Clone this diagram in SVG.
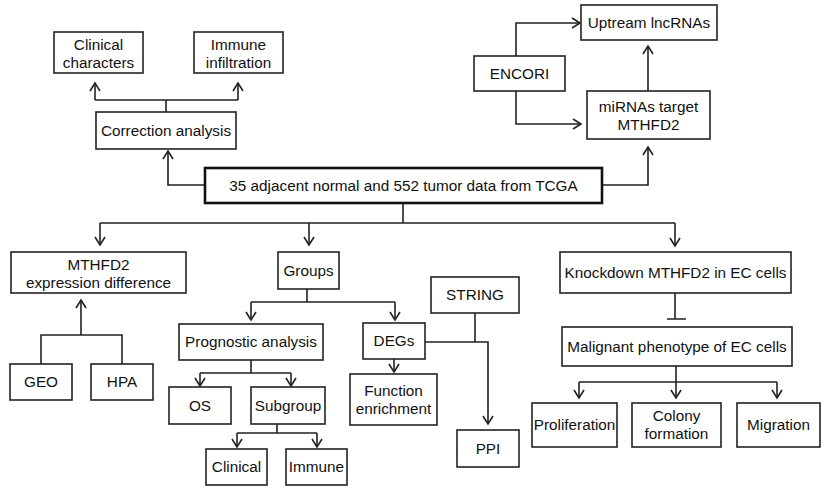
<svg xmlns="http://www.w3.org/2000/svg" width="825" height="493" viewBox="0 0 825 493">
<style>
.box{fill:#fff;stroke:#222;stroke-width:1.6}
.main{fill:#fff;stroke:#111;stroke-width:2.6}
text{font-family:"Liberation Sans",Arial,sans-serif;font-size:15.3px;fill:#111;text-anchor:middle}
.ln{fill:none;stroke:#222;stroke-width:1.6}
.ar{fill:none;stroke:#222;stroke-width:1.6;marker-end:url(#ah)}
</style>
<defs>
<marker id="ah" markerUnits="userSpaceOnUse" markerWidth="14" markerHeight="14" viewBox="-10 -7 12 14" refX="0" refY="0" orient="auto">
<path d="M-8,-5 L0,0 L-8,5" fill="none" stroke="#222" stroke-width="1.6"/>
</marker>
</defs>
<rect width="825" height="493" fill="#fff"/>
<g id="connectors">
<path class="ln" d="M166,112 V100 M95,100 H238"/>
<path class="ar" d="M95,100 V83"/>
<path class="ar" d="M238,100 V83"/>
<path class="ar" d="M205,185 H168 V151"/>
<path class="ar" d="M602,185 H648 V147"/>
<path class="ar" d="M516,56 V23 H580"/>
<path class="ar" d="M516,91 V124 H581"/>
<path class="ar" d="M648,91 V46"/>
<path class="ln" d="M403,203 V223 M100,223 H675"/>
<path class="ar" d="M100,223 V245"/>
<path class="ar" d="M309,223 V245"/>
<path class="ar" d="M675,223 V246"/>
<path class="ln" d="M41,364 V335 H122 V364"/>
<path class="ar" d="M81,335 V300"/>
<path class="ln" d="M307,289 V302 M251,302 H395"/>
<path class="ar" d="M251,302 V320"/>
<path class="ar" d="M395,302 V320"/>
<path class="ln" d="M251,360 V373 M200,373 H291"/>
<path class="ar" d="M200,373 V386"/>
<path class="ar" d="M291,373 V386"/>
<path class="ln" d="M277,424 V433 M237,433 H317"/>
<path class="ar" d="M237,433 V447"/>
<path class="ar" d="M317,433 V447"/>
<path class="ar" d="M394,359 V372"/>
<path class="ar" d="M425,342 H488 V424"/>
<path class="ln" d="M475,313 V342"/>
<path class="ln" d="M675,293 V319 M667,319 H686"/>
<path class="ln" d="M676,366 V382 M579,382 H777"/>
<path class="ar" d="M579,382 V398"/>
<path class="ar" d="M676,382 V398"/>
<path class="ar" d="M777,382 V398"/>
</g>
<g id="clinical-characters"><rect class="box" x="54" y="32" width="89" height="41"/><text x="98.5" y="50">Clinical</text><text x="98.5" y="68">characters</text></g>
<g id="immune-infiltration"><rect class="box" x="194" y="32" width="89" height="41"/><text x="238.5" y="50">Immune</text><text x="238.5" y="68">infiltration</text></g>
<g id="correction"><rect class="box" x="96" y="112" width="140" height="37"/><text x="166" y="136">Correction analysis</text></g>
<g id="tcga"><rect class="main" x="205" y="168" width="397" height="35"/><text x="403.5" y="191">35 adjacent normal and 552 tumor data from TCGA</text></g>
<g id="uptream"><rect class="box" x="581" y="5" width="136" height="35"/><text x="649" y="28">Uptream lncRNAs</text></g>
<g id="encori"><rect class="box" x="474" y="56" width="91" height="35"/><text x="519.5" y="79">ENCORI</text></g>
<g id="mirnas"><rect class="box" x="587" y="91" width="123" height="48"/><text x="648.5" y="112">miRNAs target</text><text x="648.5" y="130">MTHFD2</text></g>
<g id="expression"><rect class="box" x="11" y="252" width="175" height="41"/><text x="98.5" y="270">MTHFD2</text><text x="98.5" y="288">expression difference</text></g>
<g id="groups"><rect class="box" x="278" y="252" width="61" height="37"/><text x="308.5" y="276">Groups</text></g>
<g id="geo"><rect class="box" x="10" y="364" width="62" height="36"/><text x="41" y="387">GEO</text></g>
<g id="hpa"><rect class="box" x="91" y="364" width="62" height="36"/><text x="122" y="387">HPA</text></g>
<g id="prognostic"><rect class="box" x="179" y="324" width="144" height="36"/><text x="251" y="347">Prognostic analysis</text></g>
<g id="string"><rect class="box" x="431" y="277" width="88" height="36"/><text x="475" y="300">STRING</text></g>
<g id="degs"><rect class="box" x="363" y="323" width="62" height="36"/><text x="394" y="346">DEGs</text></g>
<g id="function"><rect class="box" x="350" y="374" width="87" height="51"/><text x="393.5" y="396">Function</text><text x="393.5" y="414">enrichment</text></g>
<g id="os"><rect class="box" x="169" y="387" width="62" height="37"/><text x="200" y="411">OS</text></g>
<g id="subgroup"><rect class="box" x="251" y="387" width="74" height="37"/><text x="288" y="411">Subgroup</text></g>
<g id="clinical"><rect class="box" x="206" y="449" width="61" height="36"/><text x="236.5" y="472">Clinical</text></g>
<g id="immune"><rect class="box" x="286" y="449" width="61" height="36"/><text x="316.5" y="472">Immune</text></g>
<g id="ppi"><rect class="box" x="457" y="430" width="62" height="37"/><text x="488" y="454">PPI</text></g>
<g id="knockdown"><rect class="box" x="560" y="252" width="231" height="41"/><text x="675.5" y="278">Knockdown MTHFD2 in EC cells</text></g>
<g id="malignant"><rect class="box" x="562" y="327" width="230" height="39"/><text x="677" y="352">Malignant phenotype of EC cells</text></g>
<g id="proliferation"><rect class="box" x="532" y="403" width="85" height="44"/><text x="574.5" y="430">Proliferation</text></g>
<g id="colony"><rect class="box" x="632" y="403" width="89" height="44"/><text x="676.5" y="421">Colony</text><text x="676.5" y="439">formation</text></g>
<g id="migration"><rect class="box" x="737" y="403" width="83" height="44"/><text x="778.5" y="430">Migration</text></g>
</svg>
